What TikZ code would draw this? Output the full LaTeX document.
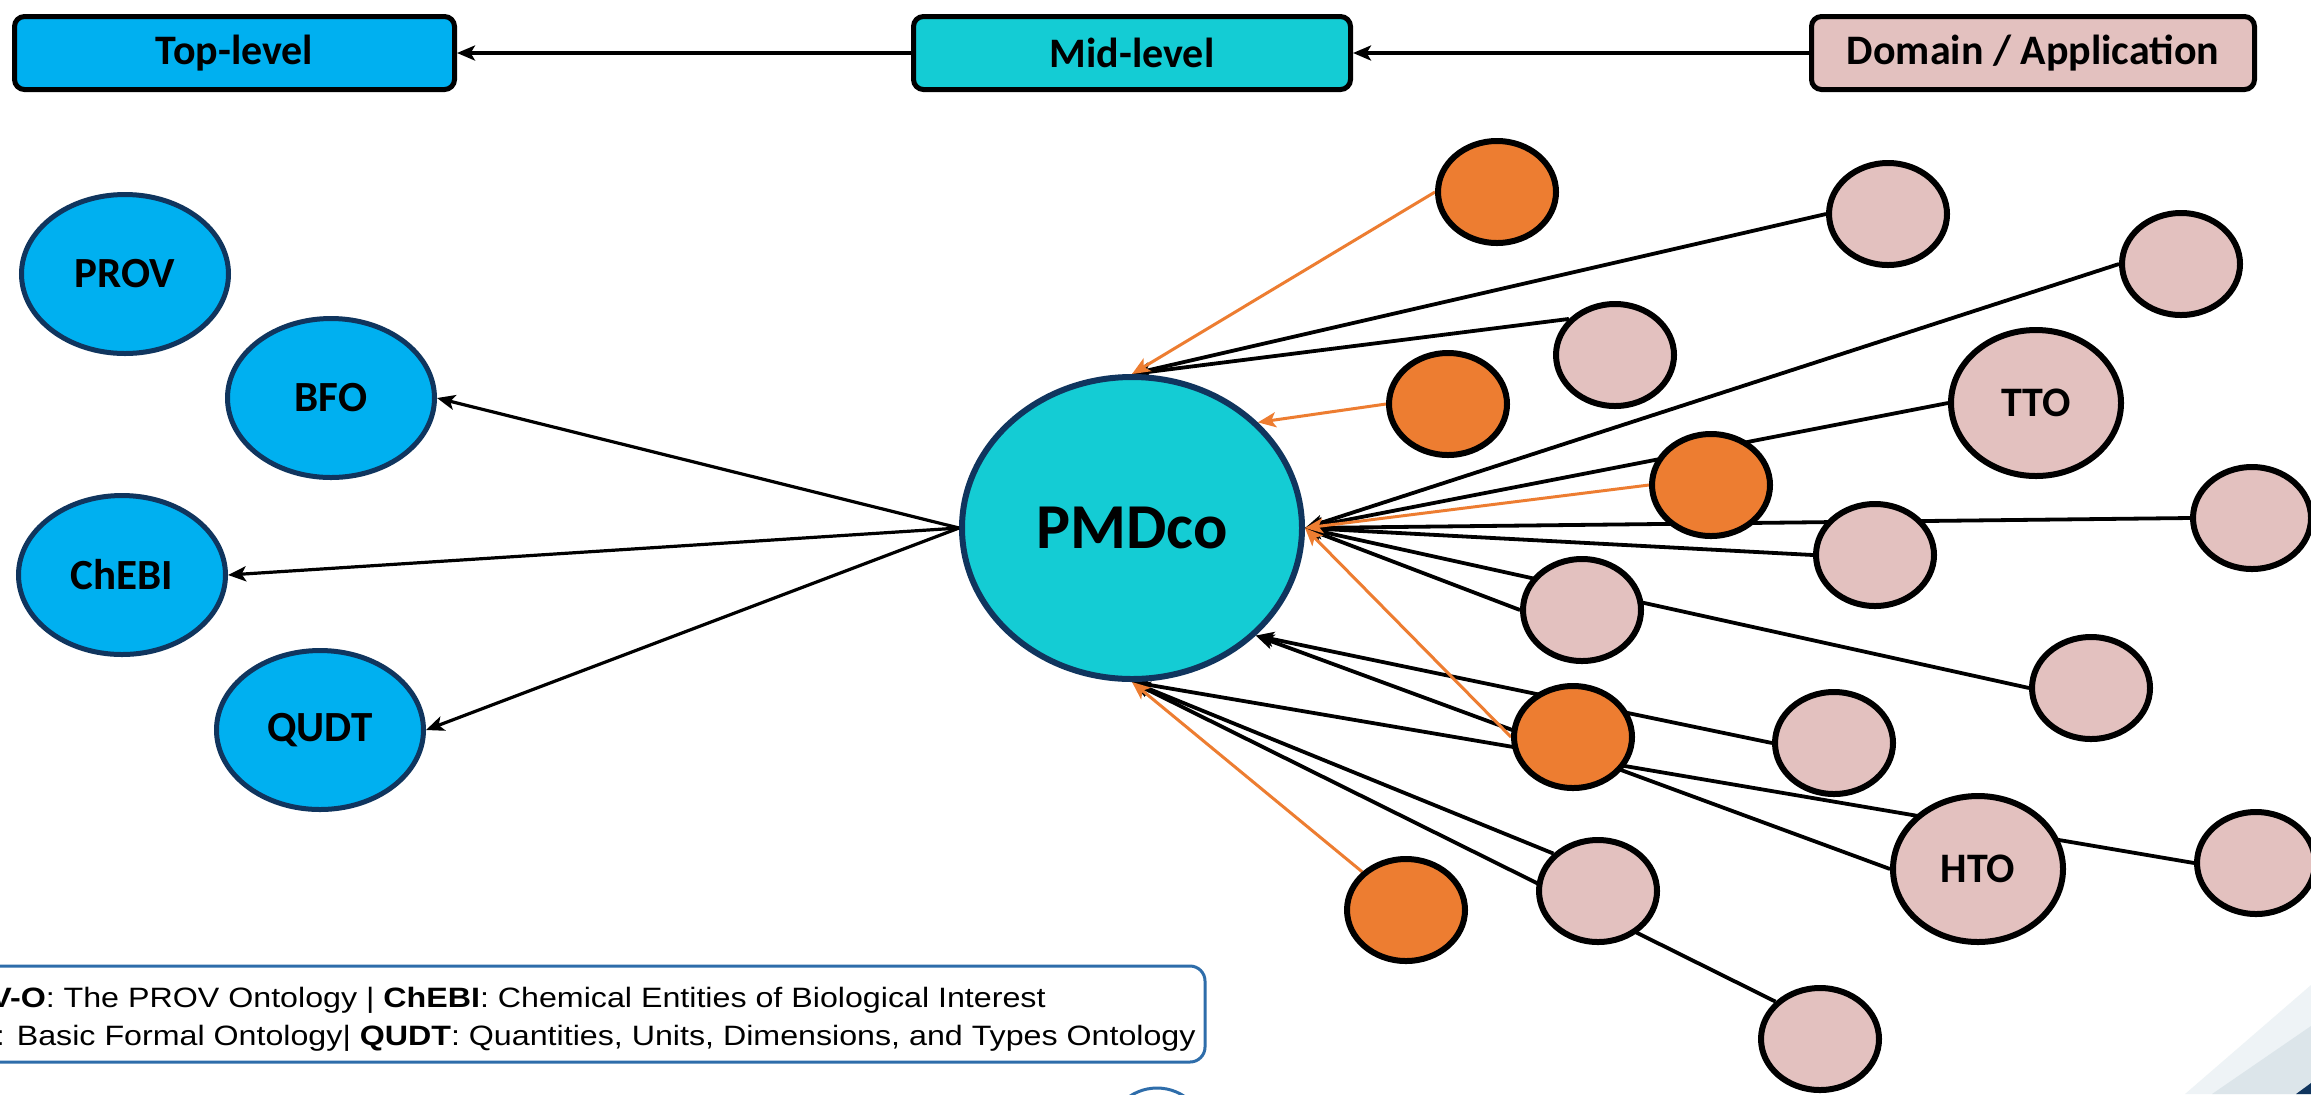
\documentclass[tikz,border=0pt]{standalone}
\usepackage{fontspec}
\setmainfont{Carlito}
\newfontfamily\legendfont[FakeStretch=1.15]{Liberation Sans}
\usetikzlibrary{shapes.geometric,arrows.meta}
\definecolor{topblue}{HTML}{00B0F0}
\definecolor{midteal}{HTML}{14CCD4}
\definecolor{pinkc}{HTML}{E3C1BF}
\definecolor{orangec}{HTML}{ED7D31}
\definecolor{navyc}{HTML}{10355E}
\definecolor{legendblue}{HTML}{2E6DAA}
\definecolor{swooshc}{HTML}{DCE5EA}
\definecolor{swooshfaint}{HTML}{EEF3F6}
\pgfdeclarelayer{paper}
\pgfdeclarelayer{bg}
\pgfsetlayers{paper,bg,main}
\begin{document}
\begin{tikzpicture}[x=0.5pt,y=-0.5pt,
  levelbox/.style={draw=black, line width=2.5pt, rounded corners=5pt, minimum height=36.5pt, inner sep=0pt, font=\bfseries\fontsize{21}{25}\selectfont},
  topont/.style={ellipse, draw=navyc, line width=2.5pt, fill=topblue, minimum width=103.5pt, minimum height=79.5pt, inner sep=0pt, font=\bfseries\fontsize{21.5}{25}\selectfont},
  dnode/.style={ellipse, draw=black, line width=3pt, fill=pinkc, minimum width=59pt, minimum height=51pt, inner sep=0pt},
  onode/.style={dnode, fill=orangec},
  bignode/.style={dnode, minimum width=85pt, minimum height=73pt, font=\bfseries\fontsize{21}{25}\selectfont},
  tip/.style={-{Stealth[length=9pt,width=7.5pt,inset=2.2pt]}},
  arr/.style={line width=1.9pt, draw=black, tip},
  larr/.style={line width=1.6pt, draw=black, tip},
  oarr/.style={line width=1.5pt, draw=orangec, tip},
  legtext/.style={anchor=base east, inner sep=0pt, font=\legendfont\fontsize{14}{16}\selectfont},
]
\useasboundingbox (0,0) rectangle (2311,1094);
\begin{pgfonlayer}{paper}
\fill[white] (0,0) rectangle (2311,1094);
\end{pgfonlayer}

% level boxes
\node[levelbox, fill=topblue, minimum width=220pt] (top) at (234.5,53) {Top-level};
\node[levelbox, fill=midteal, minimum width=218.5pt] (mid) at (1132,53) {Mid-level};
\node[levelbox, fill=pinkc, minimum width=221.5pt] (dom) at (2033,53) {Domain / Application};
\draw[arr] (mid) -- (top);
\draw[arr] (dom) -- (mid);

% top-level ontologies
\node[topont] (prov) at (125,274) {PROV};
\node[topont] (bfo) at (331,398) {BFO};
\node[topont] (chebi) at (122,575) {ChEBI};
\node[topont] (qudt) at (320,730) {QUDT};

% mid-level
\node[ellipse, draw=navyc, line width=3pt, fill=midteal, minimum width=170pt, minimum height=151pt, inner sep=0pt, font=\bfseries\fontsize{32}{37}\selectfont] (pmd) at (1132,528) {PMDco};

\draw[larr] (pmd.west) -- (bfo.east);
\draw[larr] (pmd.west) -- (chebi.east);
\draw[larr] (pmd.west) -- (qudt.east);

% orange nodes
\node[onode] (o1) at (1497,192) {};
\node[onode] (o2) at (1448,404) {};
\node[onode] (o3) at (1711,485) {};
\node[onode] (o4) at (1573,737) {};
\node[onode] (o5) at (1406,910) {};

% domain nodes
\node[dnode] (p1) at (1888,214) {};
\node[dnode] (p2) at (2181,264) {};
\node[dnode] (p3) at (1615,355) {};
\node[dnode] (p4) at (2252,518) {};
\node[dnode] (p5) at (1875,555) {};
\node[dnode] (p6) at (1582,610) {};
\node[dnode] (p7) at (2091,688) {};
\node[dnode] (p8) at (1834,743) {};
\node[dnode] (p9) at (2256,863) {};
\node[dnode] (p10) at (1598,891) {};
\node[dnode] (p11) at (1820,1039) {};
\node[bignode] (tto) at (2036,403) {TTO};
\node[bignode] (hto) at (1978,869) {HTO};

\begin{pgfonlayer}{bg}
\draw[arr] (p1.west) -- (pmd.north);
\draw[arr] (p3.142) -- (pmd.north);
\draw[arr] (p2.west) -- (pmd.east);
\draw[arr] (tto.west) -- (pmd.east);
\draw[arr] (p4.west) -- (pmd.east);
\draw[arr] (p5.west) -- (pmd.east);
\draw[arr] (p6.west) -- (pmd.east);
\draw[arr] (p7.west) -- (pmd.east);
\draw[arr] (p8.west) -- (pmd.-41);
\draw[arr] (hto.west) -- (pmd.-41);
\draw[arr] (p9.west) -- (pmd.south);
\draw[arr] (p10.140) -- (pmd.south);
\draw[arr] (p11.140) -- (pmd.south);
\draw[oarr] (o1.west) -- (pmd.north);
\draw[oarr] (o2.west) -- (pmd.40);
\draw[oarr] (o3.west) -- (pmd.east);
\draw[oarr] (o4.west) -- (pmd.east);
\draw[oarr] (o5.north west) -- (pmd.south);
\end{pgfonlayer}

% legend
\draw[legendblue, line width=1.5pt, rounded corners=7.5pt] (-20,966) rectangle (1205,1062);
\node[legtext] (leg1) at (1046,1007) {\textbf{V-O}: The PROV Ontology | \textbf{ChEBI}: Chemical Entities of Biological Interest};
\node[legtext] (leg2) at (1196,1045) {: Basic Formal Ontology| \textbf{QUDT}: Quantities, Units, Dimensions, and Types Ontology};

% decorations at the bottom
\draw[legendblue, line width=1.5pt] (1157,1137) circle[radius=49];
\fill[swooshfaint] (2185,1094) -- (2311,985) -- (2311,1094) -- cycle;
\fill[swooshc] (2212,1094) -- (2311,1026) -- (2311,1094) -- cycle;
\fill[navyc] (2296,1094) -- (2311,1083) -- (2311,1094) -- cycle;
\end{tikzpicture}
\end{document}
